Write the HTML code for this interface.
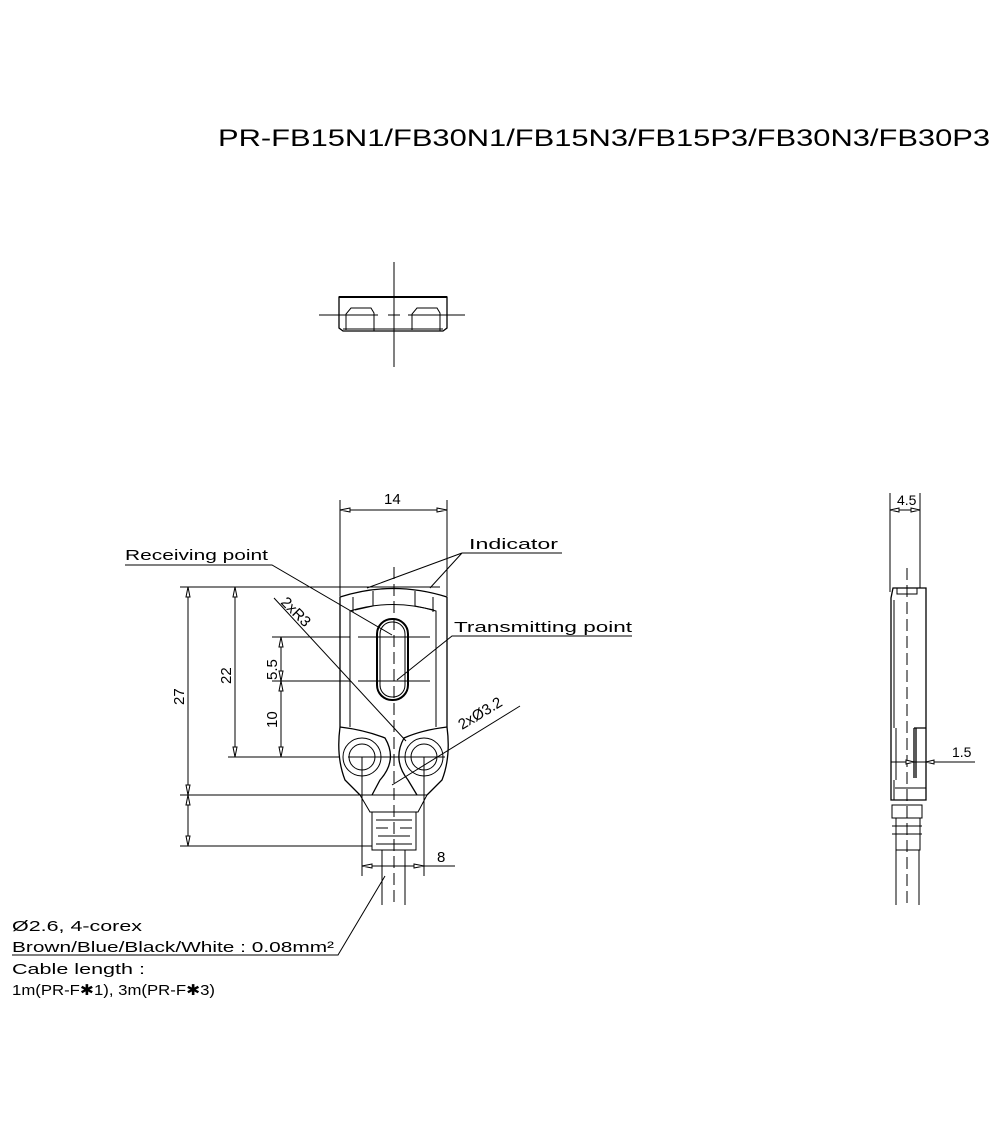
<!DOCTYPE html>
<html><head><meta charset="utf-8"><style>
html,body{margin:0;padding:0;background:#fff;width:1000px;height:1122px;overflow:hidden}
svg{display:block}
text{font-family:"Liberation Sans",sans-serif;fill:#000}
</style></head><body>
<svg width="1000" height="1122" viewBox="0 0 1000 1122" xmlns="http://www.w3.org/2000/svg">
<g fill="none" stroke="#000" stroke-width="1">
<line x1="394" y1="262" x2="394" y2="367"/>
<line x1="319" y1="315" x2="378" y2="315"/><line x1="408" y1="315" x2="465" y2="315"/>
<line x1="388" y1="315" x2="400" y2="315"/>
<path d="M339 297 H447 V328 L443 331 H343 L339 328 Z" stroke-width="1.3"/>
<line x1="339" y1="297" x2="447" y2="297" stroke-width="2"/>
<path d="M346 330 V314 L351 308 H371 L374 313 V331"/>
<path d="M412 330 V314 L417 308 H437 L440 313 V331"/>
<line x1="343" y1="329" x2="443" y2="329"/>

<line x1="340" y1="500" x2="340" y2="596"/><line x1="447" y1="500" x2="447" y2="596"/>
<line x1="340" y1="510" x2="447" y2="510"/>
<path d="M340 510 l10 -2 v4 z M447 510 l-10 -2 v4 z" fill="#fff"/>
<path d="M340 727 V597 Q393 580 447 597 V727" stroke-width="1.3"/>
<path d="M350 727 V611 Q393 598 436 611 V727"/>
<path d="M353 597 V612 M373 591 V606 L355 610 M415 591 V606 L434 610 M433 597 V612"/>
<rect x="377" y="619" width="31" height="81" rx="15" stroke-width="2"/>
<rect x="380" y="622" width="25" height="75" rx="12"/>
<line x1="394" y1="567" x2="394" y2="905" stroke-dasharray="12,5"/>
<line x1="272" y1="637" x2="350" y2="637"/><line x1="358" y1="637" x2="430" y2="637"/>
<line x1="272" y1="681" x2="350" y2="681"/><line x1="358" y1="681" x2="430" y2="681"/>
<path d="M340 727 Q365 730 385 738 Q398 760 380 780 L372 795 M447 727 Q422 730 404 738 Q392 760 408 780 L417 795" stroke-width="1.3"/>
<path d="M340 727 Q336 757 345 780 L360 795 M447 727 Q451 757 442 780 L427 795" stroke-width="1.3"/>
<circle cx="362" cy="757" r="13"/><circle cx="424" cy="757" r="13"/>
<circle cx="362" cy="757" r="19"/><circle cx="424" cy="757" r="19"/>
<line x1="348" y1="757" x2="445" y2="757"/>
<path d="M360 795 H427 L418 812 H370 Z"/>
<path d="M372 812 V850 H416 V812 M376 820 H412 M376 828 H388 M400 828 H412 M378 836 H410 M376 844 H412"/>
<path d="M382 850 V905 M405 850 V905"/>
<line x1="180" y1="587" x2="440" y2="587"/>
<line x1="180" y1="795" x2="372" y2="795"/>
<line x1="180" y1="846" x2="372" y2="846"/>
<line x1="228" y1="757" x2="340" y2="757"/>
<line x1="188" y1="587" x2="188" y2="846"/>
<line x1="235" y1="587" x2="235" y2="757"/>
<line x1="281" y1="637" x2="281" y2="757"/>
<path d="M188 587 l-2 10 h4z M188 795 l-2 -10 h4z M188 795 l-2 10 h4z M188 846 l-2 -10 h4z M235 587 l-2 10 h4z M235 757 l-2 -10 h4z M281 637 l-2 10 h4z M281 681 l-2 -10 h4z M281 681 l-2 10 h4z M281 757 l-2 -10 h4z" fill="#fff"/>
<line x1="362" y1="757" x2="362" y2="876"/><line x1="424" y1="757" x2="424" y2="876"/>
<line x1="362" y1="866" x2="455" y2="866"/>
<path d="M362 866 l10 -2 v4z M424 866 l-10 -2 v4z" fill="#fff"/>
<path d="M125 565 H272 L392 635"/>
<path d="M462 553 H562 M462 553 L367 588 M462 553 L430 588"/>
<path d="M632 636 H452 L397 680"/>
<path d="M274 598 L406 741"/>
<path d="M520 706 L392 785"/>
<path d="M12 955 H338 L385 876"/>
<line x1="890" y1="493" x2="890" y2="592"/><line x1="920" y1="493" x2="920" y2="588"/>
<line x1="890" y1="510" x2="920" y2="510"/>
<path d="M890 510 l9 -2 v4z M920 510 l-9 -2 v4z" fill="#fff"/>
<path d="M893 588 H926 V800 H891 V598 Z" stroke-width="1.3"/>
<path d="M894 600 V728 M896 728 V780 M894 780 V800 M895 788 H926"/>
<path d="M914 728 H926 M914 728 V778 M916 728 V778" stroke-width="1.3"/>
<rect x="897" y="588" width="20" height="6"/>
<line x1="907" y1="568" x2="907" y2="905" stroke-dasharray="12,5"/>
<line x1="891" y1="762" x2="975" y2="762"/>
<path d="M914 762 l-8 -2 v4z M926 762 l8 -2 v4z" fill="#fff"/>
<path d="M892 805 H922 V818 H892 Z M896 818 V850 H920 V818 M892 826 H922 M892 834 H922"/>
<path d="M896 850 V905 M919 850 V905"/>
</g>
<g font-size="24"><text x="218" y="146" textLength="772" lengthAdjust="spacingAndGlyphs" fill="#222">PR-FB15N1/FB30N1/FB15N3/FB15P3/FB30N3/FB30P3</text></g>
<g font-size="15">
<text x="384" y="504">14</text>
<text x="125" y="560" textLength="143" lengthAdjust="spacingAndGlyphs">Receiving point</text>
<text x="469" y="549" textLength="89" lengthAdjust="spacingAndGlyphs">Indicator</text>
<text x="454" y="632" textLength="178" lengthAdjust="spacingAndGlyphs">Transmitting point</text>
<text x="437" y="862">8</text>
<text x="897" y="505" font-size="14">4.5</text>
<text x="952" y="757" font-size="14">1.5</text>
<text transform="translate(184,705) rotate(-90)">27</text>
<text transform="translate(231,684) rotate(-90)">22</text>
<text transform="translate(277,680) rotate(-90)">5.5</text>
<text transform="translate(277,728) rotate(-90)">10</text>
<text transform="translate(280,603) rotate(45)">2xR3</text>
<text transform="translate(462,730) rotate(-31)">2xØ3.2</text>
<text x="12" y="931" textLength="130" lengthAdjust="spacingAndGlyphs">Ø2.6, 4-corex</text>
<text x="12" y="952" textLength="322" lengthAdjust="spacingAndGlyphs">Brown/Blue/Black/White : 0.08mm²</text>
<text x="12" y="974" textLength="133" lengthAdjust="spacingAndGlyphs">Cable length :</text>
<text x="12" y="995" textLength="203" lengthAdjust="spacingAndGlyphs">1m(PR-F✱1), 3m(PR-F✱3)</text>
</g>
</svg>
</body></html>
